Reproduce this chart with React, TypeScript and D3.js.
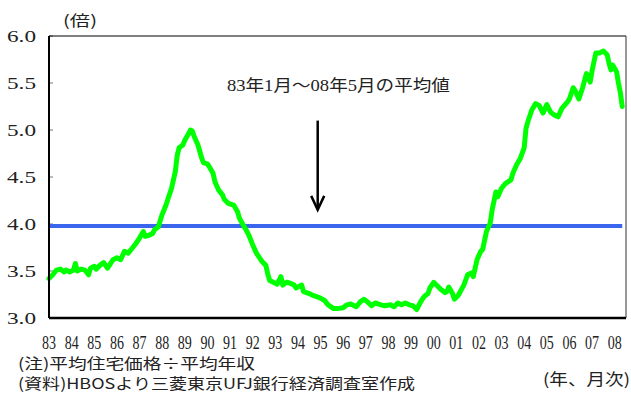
import React from "react";
import * as d3 from "d3";

// Months elapsed since January 1983, paired with the house price / income ratio
const months = [
  0, 2, 4, 6, 8, 9, 11, 13, 14, 15, 17, 19, 21, 22, 24, 25, 27, 29, 31, 32, 34, 36, 38, 40, 42, 44, 46, 48,
  50, 51, 53, 55, 56, 58, 60, 62, 63, 65, 67, 68, 69, 71, 72, 74, 75, 76, 77, 79, 81, 82, 84, 85, 87, 88,
  90, 92, 93, 95, 98, 100, 101, 103, 105, 106, 108, 110, 113, 115, 116, 117, 119, 121, 123, 124, 126, 128,
  130, 131, 134, 135, 138, 140, 143, 146, 148, 151, 153, 156, 158, 160, 163, 165, 167, 169, 171, 173, 176,
  178, 181, 183, 185, 187, 189, 191, 193, 195, 197, 199, 201, 202, 204, 206, 208, 210, 211, 212, 214, 215,
  217, 220, 222, 224, 225, 227, 229, 230, 232, 234, 235, 237, 238, 240, 242, 245, 246, 248, 250, 252, 253,
  254, 256, 258, 260, 262, 264, 266, 268, 270, 272, 275, 276, 278, 279, 281, 283, 285, 287, 288, 290, 292,
  294, 296, 297, 298, 299, 301, 302, 303, 304,
];
const ratio = [
  3.42, 3.46, 3.51, 3.52, 3.49, 3.51, 3.49, 3.51, 3.58, 3.5, 3.52, 3.51, 3.46, 3.53, 3.55, 3.52, 3.56, 3.59,
  3.53, 3.56, 3.62, 3.64, 3.62, 3.71, 3.69, 3.74, 3.79, 3.85, 3.92, 3.87, 3.88, 3.9, 3.94, 3.97, 4.1, 4.2,
  4.26, 4.38, 4.56, 4.73, 4.81, 4.84, 4.89, 4.96, 5.0, 4.99, 4.93, 4.84, 4.7, 4.65, 4.64, 4.61, 4.54, 4.45,
  4.36, 4.31, 4.26, 4.22, 4.2, 4.13, 4.06, 3.99, 3.92, 3.88, 3.78, 3.69, 3.6, 3.56, 3.47, 3.4, 3.38, 3.36,
  3.44, 3.35, 3.38, 3.37, 3.35, 3.32, 3.35, 3.28, 3.26, 3.24, 3.22, 3.19, 3.14, 3.1, 3.1, 3.11, 3.14, 3.15,
  3.12, 3.17, 3.2, 3.17, 3.13, 3.16, 3.14, 3.13, 3.14, 3.12, 3.16, 3.14, 3.16, 3.14, 3.13, 3.09, 3.17, 3.23,
  3.26, 3.32, 3.38, 3.34, 3.3, 3.27, 3.28, 3.33, 3.26, 3.2, 3.24, 3.35, 3.46, 3.48, 3.44, 3.62, 3.71, 3.73,
  3.92, 4.01, 4.15, 4.34, 4.29, 4.38, 4.43, 4.47, 4.54, 4.63, 4.7, 4.81, 5.02, 5.09, 5.21, 5.28, 5.26, 5.18,
  5.27, 5.19, 5.16, 5.14, 5.23, 5.3, 5.33, 5.45, 5.42, 5.33, 5.45, 5.6, 5.51, 5.63, 5.82, 5.82, 5.84, 5.8,
  5.71, 5.64, 5.69, 5.62, 5.5, 5.4, 5.25,
];

// Average over Jan 1983 – May 2008
const averageRatio = 3.98;

const yTicks = [3.0, 3.5, 4.0, 4.5, 5.0, 5.5, 6.0];
const yearLabels = [
  "83", "84", "85", "86", "87", "88", "89", "90", "91", "92", "93", "94", "95", "96", "97", "98", "99",
  "00", "01", "02", "03", "04", "05", "06", "07", "08",
];

const W = 631;
const H = 394;
const plot = { left: 49, right: 626, top: 36, bottom: 318 };

const SERIF = '"Liberation Serif", "DejaVu Serif", "Noto Sans CJK JP", serif';
const CJK = '"Noto Sans CJK JP", "Liberation Serif", serif';

export default function App() {
  const x = d3.scaleLinear().domain([0, 306]).range([plot.left, plot.right]);
  const y = d3.scaleLinear().domain([3, 6]).range([plot.bottom, plot.top]);

  const points: [number, number][] = months.map((m, i) => [m, ratio[i]]);
  const line = d3
    .line<[number, number]>()
    .x((d) => x(d[0]))
    .y((d) => y(d[1]))
    .curve(d3.curveLinear);

  const lastMonth = months[months.length - 1];
  const arrowX = x(142.5);
  const arrowTop = y(5.1);
  const arrowBottom = y(4.15);

  const serif = { fontFamily: SERIF };
  const cjk = { fontFamily: CJK };

  return (
    <svg width={W} height={H} style={{ position: "absolute", left: 0, top: 0, background: "#fff" }}>
      <rect x={0} y={0} width={W} height={H} fill="#fff" />

      {/* unit label */}
      <text x={63} y={26} fontSize={15} style={cjk} textLength={34} lengthAdjust="spacingAndGlyphs" fill="#222">
        (倍)
      </text>

      {/* y tick marks and labels */}
      {yTicks.map((t) => (
        <g key={t}>
          <line x1={plot.left} x2={plot.left + 4} y1={y(t)} y2={y(t)} stroke="#777" strokeWidth={1} />
          <text
            x={36}
            y={y(t) + 6}
            fontSize={17}
            style={serif}
            textAnchor="end"
            textLength={29}
            lengthAdjust="spacingAndGlyphs"
            fill="#222"
          >
            {t.toFixed(1)}
          </text>
        </g>
      ))}

      {/* year labels */}
      {yearLabels.map((lab, i) => (
        <text
          key={lab}
          x={x(i * 12)}
          y={349}
          fontSize={19}
          style={serif}
          textAnchor="middle"
          textLength={14}
          lengthAdjust="spacingAndGlyphs"
          fill="#222"
        >
          {lab}
        </text>
      ))}

      {/* frame */}
      <line x1={plot.left} x2={plot.right} y1={plot.top} y2={plot.top} stroke="#000" strokeWidth={1} />
      <line x1={plot.right} x2={plot.right} y1={plot.top} y2={plot.bottom} stroke="#333" strokeWidth={1} />

      {/* average line */}
      <line
        x1={x(0)}
        x2={x(lastMonth)}
        y1={y(averageRatio)}
        y2={y(averageRatio)}
        stroke="#3a66ee"
        strokeWidth={4}
      />

      {/* ratio series */}
      <path
        d={line(points) ?? ""}
        fill="none"
        stroke="#00ff00"
        strokeWidth={5}
        strokeLinejoin="round"
        strokeLinecap="round"
      />

      <line x1={plot.left} x2={plot.left} y1={plot.top} y2={plot.bottom} stroke="#000" strokeWidth={2} />
      <line x1={plot.left} x2={plot.right} y1={plot.bottom} y2={plot.bottom} stroke="#000" strokeWidth={2.5} />

      {/* annotation */}
      <text
        x={x(153.5)}
        y={91}
        fontSize={16}
        style={serif}
        textAnchor="middle"
        textLength={223}
        lengthAdjust="spacingAndGlyphs"
        fill="#222"
      >
        83年1月～08年5月の平均値
      </text>
      <line x1={arrowX} x2={arrowX} y1={arrowTop} y2={arrowBottom} stroke="#000" strokeWidth={2.5} />
      <polyline
        points={`${arrowX - 6.5},${arrowBottom - 14} ${arrowX},${arrowBottom} ${arrowX + 6.5},${arrowBottom - 14}`}
        fill="none"
        stroke="#000"
        strokeWidth={2.5}
      />

      {/* notes */}
      <text x={18} y={369} fontSize={15} style={cjk} textLength={237} lengthAdjust="spacingAndGlyphs" fill="#222">
        (注)平均住宅価格÷平均年収
      </text>
      <text x={18} y={389} fontSize={15} style={cjk} textLength={397} lengthAdjust="spacingAndGlyphs" fill="#222">
        (資料)HBOSより三菱東京UFJ銀行経済調査室作成
      </text>
      <text x={543} y={385} fontSize={16} style={cjk} textLength={87} lengthAdjust="spacingAndGlyphs" fill="#222">
        (年、月次)
      </text>
    </svg>
  );
}
